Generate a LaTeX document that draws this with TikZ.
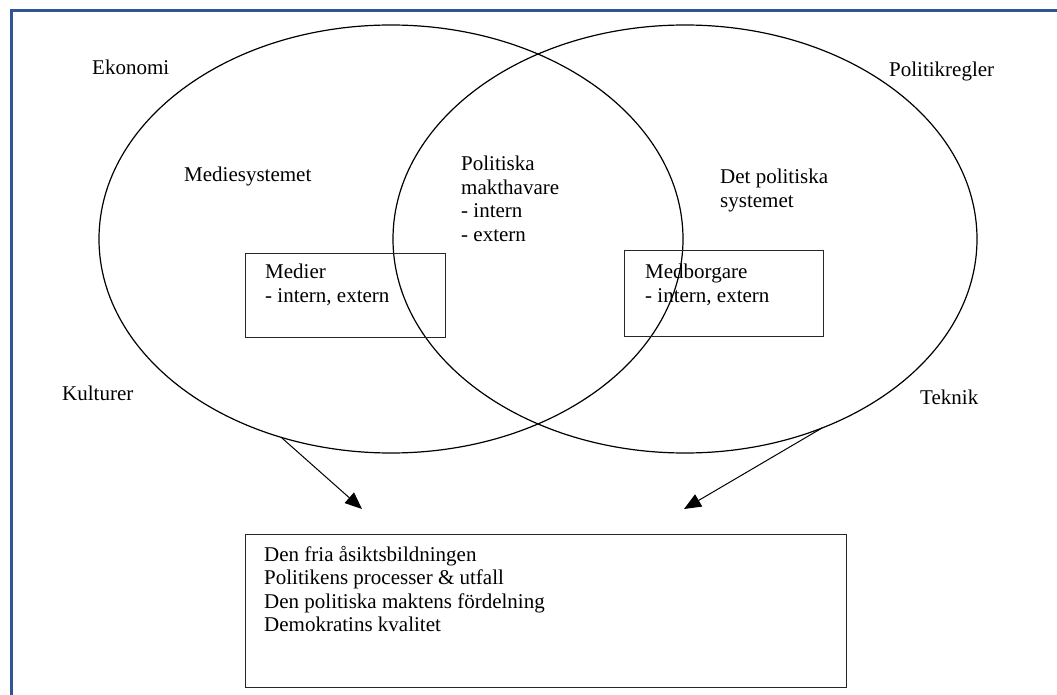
\documentclass[tikz,border=0pt]{standalone}
\usepackage{fontspec}
\setmainfont{Liberation Serif}
\usetikzlibrary{arrows.meta,shapes.geometric}
\definecolor{frameblue}{RGB}{47,85,151}
\begin{document}
\begin{tikzpicture}[x=1pt,y=-1pt,
  lbl/.style={font=\fontsize{21}{23.5}\selectfont, inner sep=0pt, align=left},
  ell/.style={ellipse, draw=black, line width=1.2pt, minimum width=584pt, minimum height=428pt, inner sep=0pt, outer sep=0pt},
  rbox/.style={rectangle, draw=black!85, line width=1.2pt, inner sep=0pt, anchor=north west},
  conn/.style={line width=1pt, -{Triangle[length=17pt,width=14pt]}}]
\useasboundingbox (0,0) rectangle (1057,695);
\draw[line width=3pt, color=frameblue] (1057,11) -- (11,11) -- (11,695);

\node[ell] (lell) at (391,239) {};
\node[ell] (rell) at (685,239) {};

\node[rbox, minimum width=200pt, minimum height=84pt] (medbox) at (245,253) {};
\node[rbox, minimum width=199pt, minimum height=86pt] (borgbox) at (624,250) {};
\node[rbox, minimum width=601pt, minimum height=153pt] (resbox) at (245,534) {};

\node[lbl, anchor=base west] (ekon) at (92,75) {Ekonomi};
\node[lbl, anchor=base west] (polr) at (889,77) {Politikregler};
\node[lbl, anchor=base west] (kult) at (62,400) {Kulturer};
\node[lbl, anchor=base west] (tekn) at (920,404) {Teknik};
\node[lbl, anchor=base west] (medsys) at (184,182) {Mediesystemet};
\node[lbl, anchor=north west] (makt) at (461,156) {Politiska\\makthavare\\- intern\\- extern};
\node[lbl, anchor=north west] (polsys) at (720,169) {Det politiska\\systemet};
\node[lbl, anchor=north west] (medier) at (265,264) {Medier\\- intern, extern};
\node[lbl, anchor=north west] (borg) at (645,264) {Medborgare\\- intern, extern};
\node[lbl, anchor=north west] (res) at (264,546) {Den fria åsiktsbildningen\\Politikens processer \& utfall\\Den politiska maktens fördelning\\Demokratins kvalitet};

\coordinate (tipL) at (362,509);
\coordinate (tipR) at (684,509);
\draw[conn] (lell.241) -- (tipL);
\draw[conn] (rell.306) -- (tipR);
\end{tikzpicture}
\end{document}
